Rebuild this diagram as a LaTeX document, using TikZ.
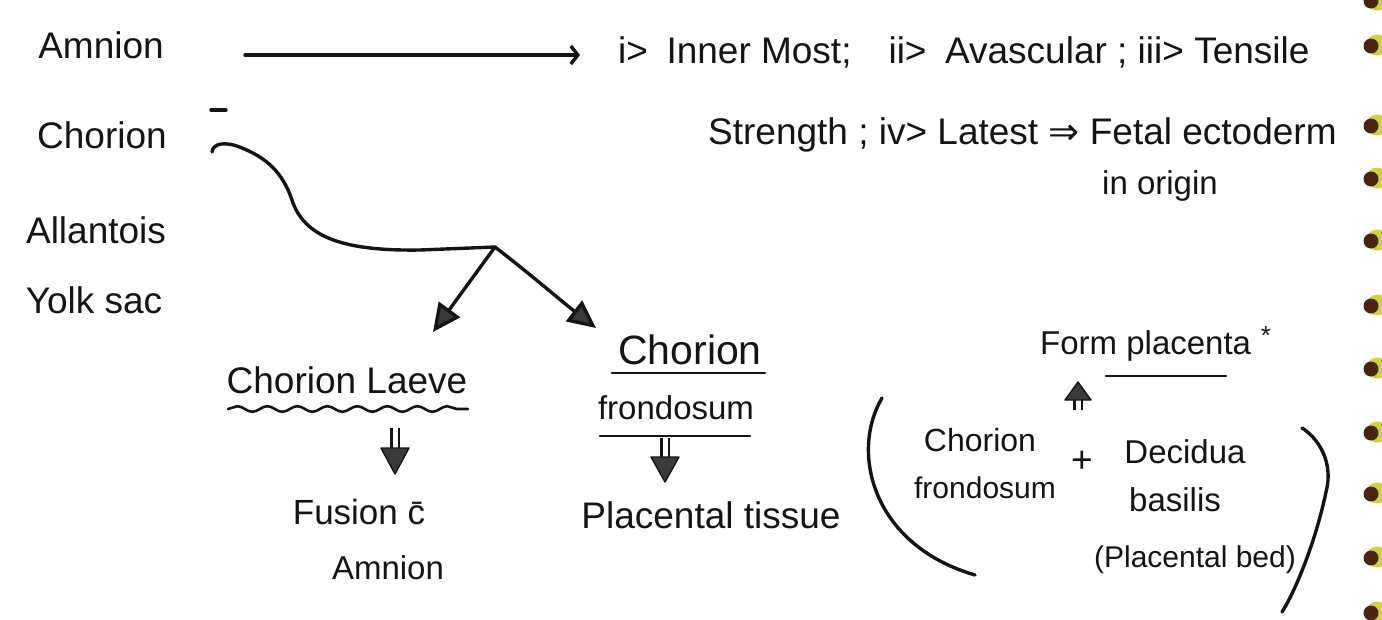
\documentclass[tikz,border=0pt]{standalone}
\usepackage{fontspec}
\setmainfont{Liberation Sans}
\newfontfamily\symfont{DejaVu Sans}
\usetikzlibrary{arrows.meta,decorations.pathmorphing,calc}
\definecolor{ink}{HTML}{141414}
\definecolor{headfill}{HTML}{3A3A3A}
\definecolor{ringdark}{HTML}{4A2412}
\definecolor{ringyellow}{HTML}{D2D23C}
\newcommand{\fs}[1]{\fontsize{#1}{#1}\selectfont}
\tikzset{
  lbl/.style={font=\fs{37}, text=ink, inner sep=0pt},
  mid/.style={font=\fs{33}, text=ink, inner sep=0pt},
  small/.style={font=\fs{30}, text=ink, inner sep=0pt},
  conn/.style={draw=ink, line width=3.4pt, line cap=round, line join=round},
  bighead/.style={-{Triangle[length=28pt,width=26pt,fill=headfill]}},
  twin/.style={draw=ink, line width=2.2pt, double distance=5pt},
  twinhead/.style={fill=headfill, draw=ink, line width=1.4pt, line join=round},
  uline/.style={conn, line width=2.6pt},
  wavy/.style={conn, line width=2.6pt, decorate, decoration={snake, amplitude=2.8pt, segment length=30pt}}
}
\begin{document}
\begin{tikzpicture}[x=1pt,y=-1pt]
\useasboundingbox (0,0) rectangle (1382,619);
\fill[white] (0,0) rectangle (1382,619);

% notebook ring holes along the right edge
\foreach \yy in {0,45,125,178,240,305,368,432,493,557,612}{
  \fill[ringyellow] (1377,\yy) circle (10.5);
  \fill[ringdark] (1371,\yy+1) circle (7.5);
}

% the four membranes
\node[lbl] (amnion) at (101,45) {Amnion};
\node[lbl] (chorion) at (102,135) {Chorion};
\node[lbl] (allantois) at (96,230) {Allantois};
\node[lbl] (yolk) at (94,300) {Yolk sac};

% amnion -> its properties
\coordinate (amS) at (245,55);
\coordinate (amE) at (580,55);
\draw[conn, -{Straight Barb[length=7pt,width=18pt]}] (amS) -- (amE);
\node[lbl, anchor=west] (props1) at (618,52)
  {i>\enspace Inner Most;\quad ii>\enspace Avascular ; iii> Tensile};
\node[lbl, anchor=west] (props2) at (708,135)
  {Strength ; iv> Latest {\symfont ⇒} Fetal ectoderm};
\node[mid] (props3) at (1160,186) {in origin};

% chorion branches
\draw[conn] (211,110) -- (226,110);
\coordinate (chS) at (212,152);
\coordinate (junc) at (495,247);
\draw[conn] (chS) .. controls (213,143) and (226,141) .. (242,148)
  .. controls (272,160) and (285,178) .. (293,203)
  .. controls (307,240) and (350,251) .. (420,250) -- (junc);
\coordinate (tipL) at (433,332);
\coordinate (tipR) at (596,328);
\draw[conn, bighead] (junc) -- (tipL);
\draw[conn, bighead] (junc) .. controls (535,278) and (560,300) .. (tipR);

% chorion laeve
\node[lbl] (laeve) at (347,380) {Chorion Laeve};
\draw[wavy] (228,409) -- (468,409);
\coordinate (dLa) at (395,428);
\coordinate (dLb) at (395,452);
\draw[twin] (dLa) -- (dLb);
\draw[twinhead] (381,448) -- (409,448) -- (395,474) -- cycle;
\node[font=\fs{35}, text=ink, inner sep=0pt] (fusion) at (359,512) {Fusion \={c}};
\node[mid] (amnion2) at (388,568) {Amnion};

% chorion frondosum
\node[font=\fs{41}, text=ink, inner sep=0pt] (ch2) at (690,350) {Chorion};
\draw[uline] (612,373) -- (765,373);
\node[mid] (frond) at (676,408) {frondosum};
\draw[uline] (600,436) -- (750,436);
\coordinate (dRa) at (665,438);
\coordinate (dRb) at (665,462);
\draw[twin] (dRa) -- (dRb);
\draw[twinhead] (651,457) -- (679,457) -- (665,482) -- cycle;
\node[lbl] (tissue) at (711,515) {Placental tissue};

% placenta formation
\node[mid, anchor=west] (form) at (1040,346) {Form placenta};
\node[font=\fs{26}, text=ink, inner sep=0pt] (star) at (1266,336) {*};
\draw[uline] (1106,376) -- (1226,376);
\coordinate (uTa) at (1078,410);
\coordinate (uTb) at (1078,396);
\draw[twin] (uTa) -- (uTb);
\draw[twinhead] (1065,400) -- (1091,400) -- (1078,382) -- cycle;

\draw[conn] (882,398) .. controls (850,452) and (872,545) .. (975,575);
\draw[conn] (1302,428) .. controls (1318,438) and (1334,462) .. (1326,492)
  .. controls (1316,540) and (1296,590) .. (1282,612);

\node[font=\fs{32}, text=ink, inner sep=0pt] (cf1) at (980,440) {Chorion};
\node[small] (cf2) at (985,488) {frondosum};
\node[lbl] (plus) at (1082,462) {+};
\node[mid] (dec) at (1185,452) {Decidua};
\node[mid] (bas) at (1175,500) {basilis};
\node[small] (bed) at (1195,560) {(Placental bed)};
\end{tikzpicture}
\end{document}
